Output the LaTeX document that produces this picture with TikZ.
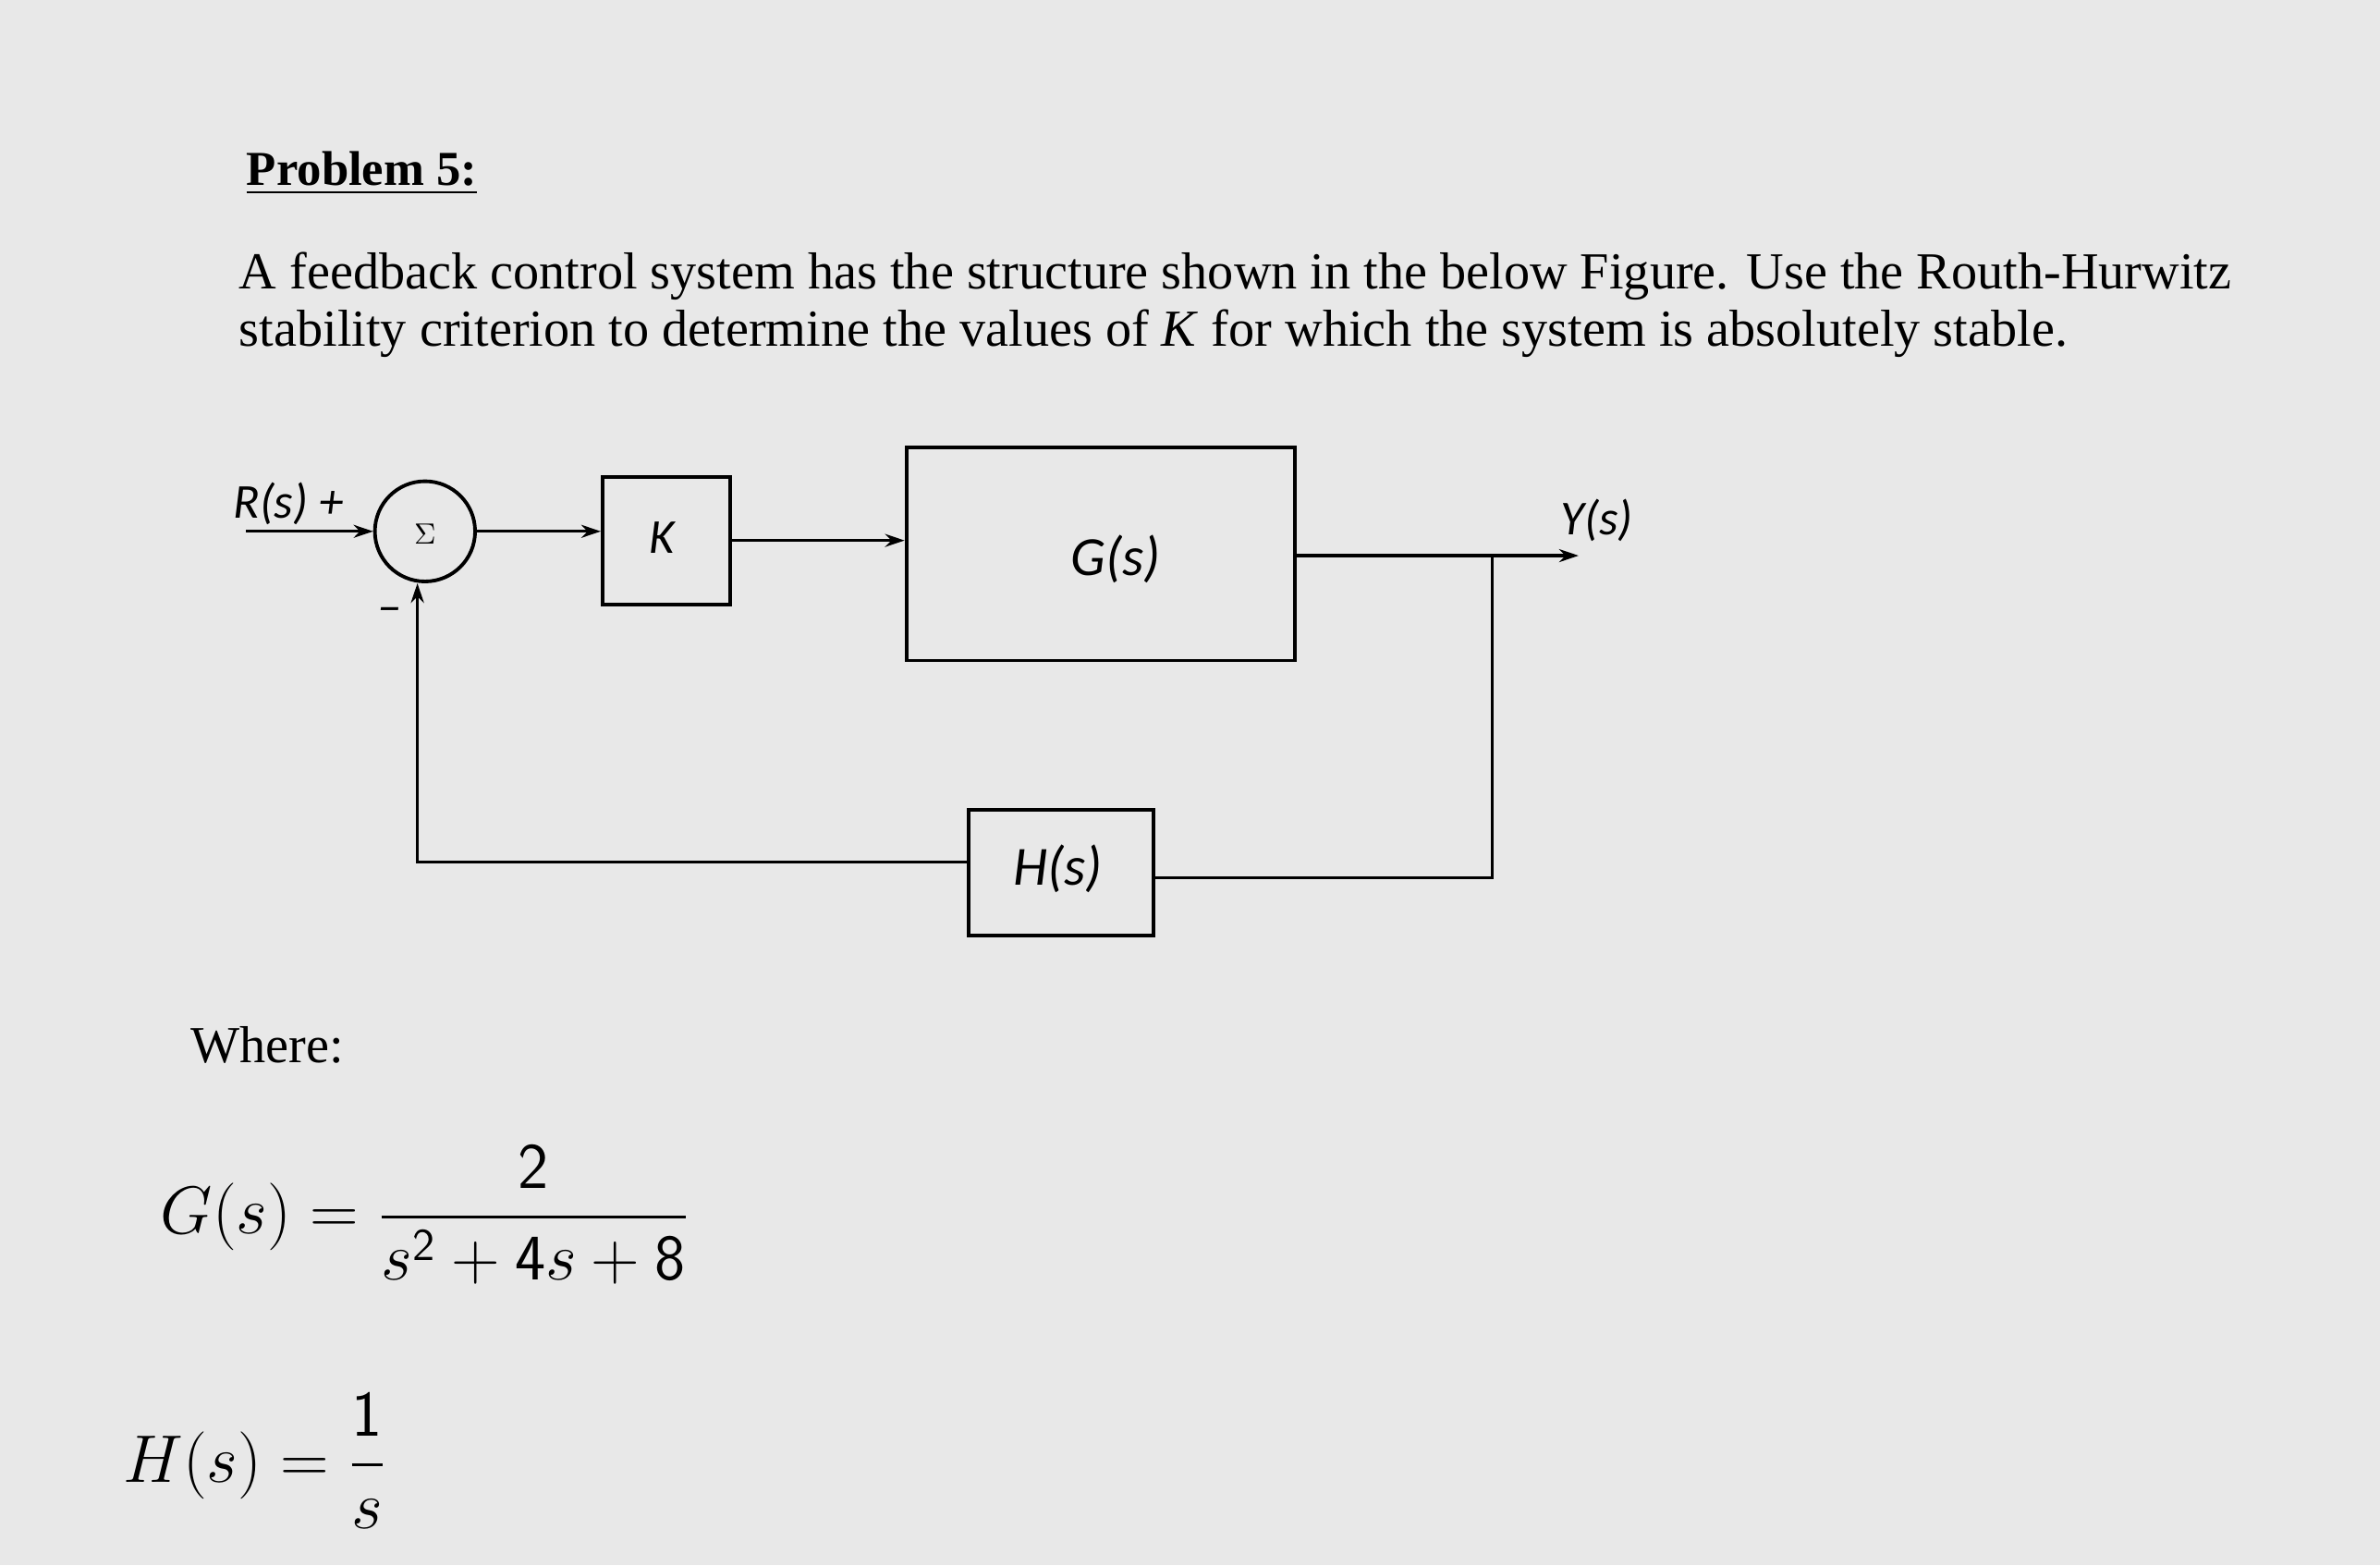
\documentclass[tikz,border=0pt]{standalone}
\usepackage{amsmath}
\usepackage{fontspec}
\setmainfont{Liberation Serif}
\newfontfamily\calfont{Carlito}
\usetikzlibrary{arrows.meta}
\begin{document}
\begin{tikzpicture}[x=0.01642cm,y=-0.01642cm,
  blk/.style={draw,line width=1.1pt,inner sep=0pt},
  wire/.style={line width=0.9pt},
  arr/.style={wire,-{Stealth[length=6pt,width=4pt]}},
  lab/.style={font=\calfont\itshape\fontsize{15}{15}\selectfont}]
\fill[gray!18!white] (0,0) rectangle (1568,1031);
\useasboundingbox (0,0) rectangle (1568,1031);
\node[anchor=base west,font=\bfseries\fontsize{15}{15}\selectfont] (title) at (155,122) {\underline{Problem 5:}};
\node[anchor=base west,font=\fontsize{16}{16}\selectfont] (p1) at (150,190) {A feedback control system has the structure shown in the below Figure. Use the Routh-Hurwitz};
\node[anchor=base west,font=\fontsize{16}{16}\selectfont] (p2) at (150,228) {stability criterion to determine the values of \textit{K} for which the system is absolutely stable.};
% blocks
\node[blk,circle,minimum size=1.084cm] (sum) at (280,350) {};
\node[font=\calfont\fontsize{9}{9}\selectfont] (sig) at (280,352) {$\Sigma$};
\node[blk,minimum width=1.38cm,minimum height=1.38cm] (K) at (439,356) {};
\node[lab] (Kl) at (436,354) {K};
\node[blk,minimum width=4.2cm,minimum height=2.3cm] (G) at (725,365) {};
\node[lab,font=\calfont\itshape\fontsize{17}{17}\selectfont] (Gl) at (735,368) {G(s)};
\node[blk,minimum width=2.0cm,minimum height=1.36cm] (H) at (699,575) {};
\node[lab,font=\calfont\itshape\fontsize{17}{17}\selectfont] (Hl) at (697,572) {H(s)};
\coordinate (rin) at (162,350);
\coordinate (br) at (983,366);
\coordinate (yout) at (1040,366);
\coordinate (c1) at (983,578);
\coordinate (c2) at (275,568);
\node[lab] (R) at (190,332) {R(s) +};
\node[lab] (minus) at (257,405) {\textendash};
\node[lab] (Y) at (1052,343) {Y(s)};
\draw[arr] (rin) -- (sum.west |- rin);
\draw[arr] (sum.east) -- (K.west |- sum.east);
\draw[arr] (K.east) -- (G.west |- K.east);
\draw[arr] (G.east |- br) -- (yout);
\draw[wire] (br) -- (c1) -- (H.east |- c1);
\draw[arr] (H.west |- c2) -- (c2) -- (sum.south -| c2);
\node[anchor=base west,font=\fontsize{16}{16}\selectfont] (where) at (118,700) {Where:};
\node[font=\fontsize{20}{20}\selectfont] (Geq) at (280,800) {$G(s)=\dfrac{\mathsf{2}}{s^{\mathsf{2}}+\mathsf{4}s+\mathsf{8}}$};
\node[font=\fontsize{20}{20}\selectfont] (Heq) at (168,962) {$H(s)=\dfrac{\mathsf{1}}{s}$};
\end{tikzpicture}
\end{document}
